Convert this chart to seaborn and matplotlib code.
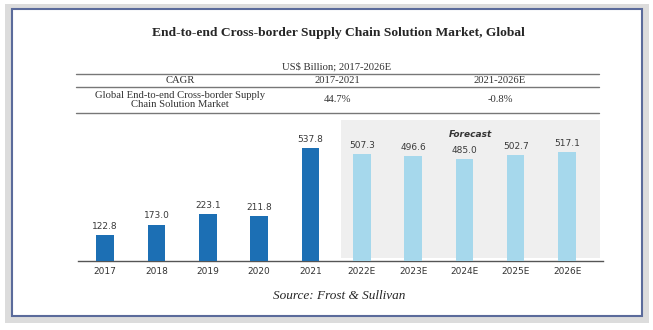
import matplotlib
matplotlib.use("Agg")
import matplotlib.pyplot as plt
import seaborn as sns
import pandas as pd
from matplotlib.patches import Rectangle

categories = ["2017", "2018", "2019", "2020", "2021", "2022E", "2023E", "2024E", "2025E", "2026E"]
values = [122.8, 173.0, 223.1, 211.8, 537.8, 507.3, 496.6, 485.0, 502.7, 517.1]
period = ["Historical"] * 5 + ["Forecast"] * 5
title = "End-to-end Cross-border Supply Chain Solution Market, Global"
unit_text = "US$ Billion; 2017-2026E"
table_header = ["CAGR", "2017-2021", "2021-2026E"]
table_row = ["Global End-to-end Cross-border Supply\nChain Solution Market", "44.7%", "-0.8%"]
source = "Source: Frost & Sullivan"

sns.set_theme(style="white")
W, H = 653, 330
fig = plt.figure(figsize=(W / 100, H / 100), dpi=100)
fig.patch.set_facecolor("white")

def fx(px):
    return px / W

def fy(py):
    return 1 - py / H

# frame with shadow
fig.patches.append(Rectangle((fx(5), fy(323)), fx(649) - fx(5), fy(4) - fy(323),
                             transform=fig.transFigure, facecolor="#dcdcdc", edgecolor="none", zorder=-3))
fig.patches.append(Rectangle((fx(12), fy(316)), fx(642) - fx(12), fy(9) - fy(316),
                             transform=fig.transFigure, facecolor="white", edgecolor="#5b6b9b", lw=1.5, zorder=-2))

serif = "Liberation Serif"
fig.text(fx(338), fy(33), title, ha="center", va="center", fontsize=9.7, fontweight="bold", family=serif)
fig.text(fx(337), fy(67), unit_text, ha="center", va="center", fontsize=7.7, family=serif, color="#333333")

for yy in (74, 87, 113):
    fig.add_artist(plt.Line2D([fx(76), fx(599)], [fy(yy), fy(yy)], transform=fig.transFigure,
                              color="#777777", lw=1.0))
col_x = [180, 337, 500]
for x, t in zip(col_x, table_header):
    fig.text(fx(x), fy(80.5), t, ha="center", va="center", fontsize=7.7, family=serif, color="#333333")
for x, t in zip(col_x, table_row):
    fig.text(fx(x), fy(100), t, ha="center", va="center", fontsize=7.7, family=serif, color="#333333",
             linespacing=1.05)

fig.text(fx(339), fy(296), source, ha="center", va="center", fontsize=9.5, family=serif, style="italic")

# bar axes
ax = fig.add_axes([fx(78), fy(261), fx(603) - fx(78), fy(120) - fy(261)])
ax.set_facecolor("none")
df = pd.DataFrame({"year": categories, "value": values, "period": period})
palette = {"Historical": "#1c6fb4", "Forecast": "#a6d8ec"}
sns.barplot(data=df, x="year", y="value", hue="period", palette=palette, width=0.34,
            dodge=False, legend=False, ax=ax, zorder=3, saturation=1, edgecolor="none")
ax.set_xlim(-0.53, 9.7)
ax.set_ylim(0, 670)

# forecast shading
ax.add_patch(Rectangle((4.6, 12), 9.64 - 4.6, 670 - 12, facecolor="#efefef", edgecolor="none", zorder=1))
ax.text((4.6 + 9.64) / 2, 603, "Forecast", ha="center", va="center", fontsize=6.5,
        fontweight="bold", style="italic", color="#333333", zorder=4)

for i, v in enumerate(values):
    ax.annotate(f"{v:.1f}", (i, v), xytext=(0, 3), textcoords="offset points",
                ha="center", va="bottom", fontsize=6.5, color="#3a3a3a", zorder=4)

ax.set_xlabel("")
ax.set_ylabel("")
ax.set_yticks([])
for s in ("top", "right", "left"):
    ax.spines[s].set_visible(False)
ax.spines["bottom"].set_color("#555555")
ax.spines["bottom"].set_linewidth(1.0)
ax.tick_params(axis="x", labelsize=6.5, colors="#333333", length=0, pad=4)

fig.savefig("out.png", dpi=100)
